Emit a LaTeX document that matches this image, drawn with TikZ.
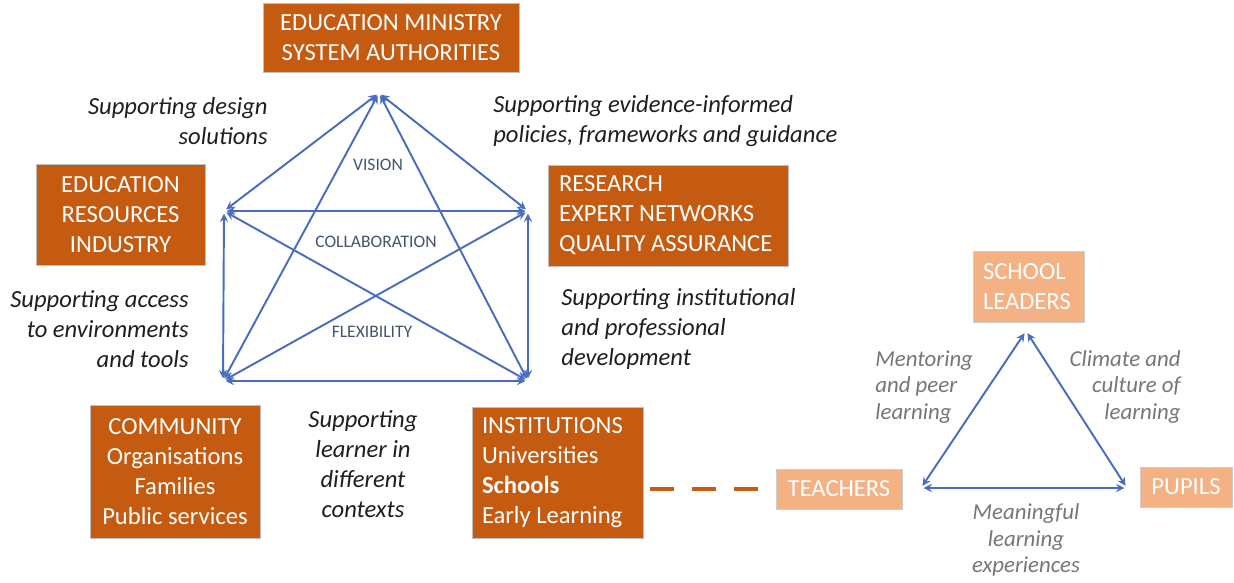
\documentclass[tikz,border=0pt]{standalone}
\usepackage{fontspec}
\setmainfont{Carlito}
\definecolor{rust}{RGB}{197,90,17}
\definecolor{peach}{RGB}{244,177,131}
\definecolor{linkblue}{RGB}{72,108,190}
\definecolor{slate}{RGB}{68,84,106}
\definecolor{note}{RGB}{30,30,30}
\definecolor{softgray}{RGB}{118,118,118}
\begin{document}
\begin{tikzpicture}[x=0.02cm,y=-0.02cm,
    dark/.style={fill=rust,draw=gray!50,text=white,font=\fontsize{14}{17}\selectfont},
    light/.style={fill=peach,draw=gray!40,text=white,font=\fontsize{14}{17}\selectfont},
    link/.style={<->,>=stealth,linkblue,line width=1.1pt,shorten >=1.5pt,shorten <=1.5pt},
    remark/.style={inner sep=0pt,text=note,font=\fontsize{14}{17}\selectfont\itshape},
    aside/.style={inner sep=0pt,text=softgray,font=\fontsize{13}{15.3}\selectfont\itshape},
    value/.style={inner sep=0pt,text=slate,font=\fontsize{10}{12}\selectfont}]
  \useasboundingbox (0,0) rectangle (1234,582);
  % partner boxes
  \node[dark,minimum width=5.12cm,minimum height=1.38cm,align=center] (ministry) at (391,37.5)
    {EDUCATION MINISTRY\\SYSTEM AUTHORITIES};
  \node[dark,minimum width=3.38cm,minimum height=2.02cm,align=center] (industry) at (120.5,214.5)
    {EDUCATION\\RESOURCES\\INDUSTRY};
  \node[dark,inner xsep=0.22cm,text width=4.36cm,minimum height=2.02cm,align=flush left] (research) at (668,215.5)
    {RESEARCH\\EXPERT NETWORKS\\QUALITY ASSURANCE};
  \node[dark,minimum width=3.4cm,minimum height=2.66cm,align=center] (community) at (175,471.5)
    {COMMUNITY\\Organisations\\Families\\Public services};
  \node[dark,inner xsep=0.2cm,text width=3.02cm,minimum height=2.62cm,align=flush left] (institutions) at (557.5,472.5)
    {INSTITUTIONS\\Universities\\\textbf{Schools}\\Early Learning};
  % school triangle
  \node[light,inner xsep=0.2cm,text width=1.82cm,minimum height=1.42cm,align=flush left] (leaders) at (1028.5,286.5)
    {SCHOOL\\LEADERS};
  \node[light,minimum width=2.52cm,minimum height=0.8cm] (teachers) at (839,489) {TEACHERS};
  \node[light,minimum width=1.84cm,minimum height=0.8cm] (pupils) at (1186,487) {PUPILS};
  \draw[rust,line width=2.8pt,dash pattern=on 13.6pt off 10.2pt,shorten <=4pt,shorten >=9pt]
    (institutions.east |- teachers) -- (teachers.west);
  % pentagon corners
  \coordinate (p-top) at (379,93);
  \coordinate (p-left) at (224,211);
  \coordinate (p-right) at (528,211);
  \coordinate (p-bl) at (223,381);
  \coordinate (p-br) at (528,381);
  \foreach \a/\b in {top/left,top/right,top/bl,top/br,left/right,left/bl,left/br,right/bl,right/br,bl/br}
    \draw[link] (p-\a) -- (p-\b);
  \node[value] (vision) at (378,165) {VISION};
  \node[value] (collab) at (376,242) {COLLABORATION};
  \node[value] (flex) at (372,332) {FLEXIBILITY};
  % triangle corners
  \coordinate (t-top) at (1026,331);
  \coordinate (t-left) at (921,488);
  \coordinate (t-right) at (1127,488);
  \draw[link] (t-top) -- (t-left);
  \draw[link] (t-top) -- (t-right);
  \draw[link] (t-left) -- (t-right);
  % labels
  \node[remark,anchor=east,align=right] (design) at (268,121) {Supporting design\\solutions};
  \node[remark,anchor=west,align=left] (policy) at (493,121)
    {Supporting evidence-informed\\policies, frameworks and guidance};
  \node[remark,anchor=east,align=right] (access) at (189,329)
    {Supporting access\\to environments\\and tools};
  \node[remark,anchor=west,align=left] (devel) at (561,329)
    {Supporting institutional\\and professional\\development};
  \node[remark,align=center] (learner) at (363,464)
    {Supporting\\learner in\\different\\contexts};
  \node[aside,anchor=west,align=left] (mentor) at (875,387) {Mentoring\\and peer\\learning};
  \node[aside,anchor=east,align=right] (climate) at (1181,387) {Climate and\\culture of\\learning};
  \node[aside,align=center] (meaning) at (1026,540) {Meaningful\\learning\\experiences};
\end{tikzpicture}
\end{document}
